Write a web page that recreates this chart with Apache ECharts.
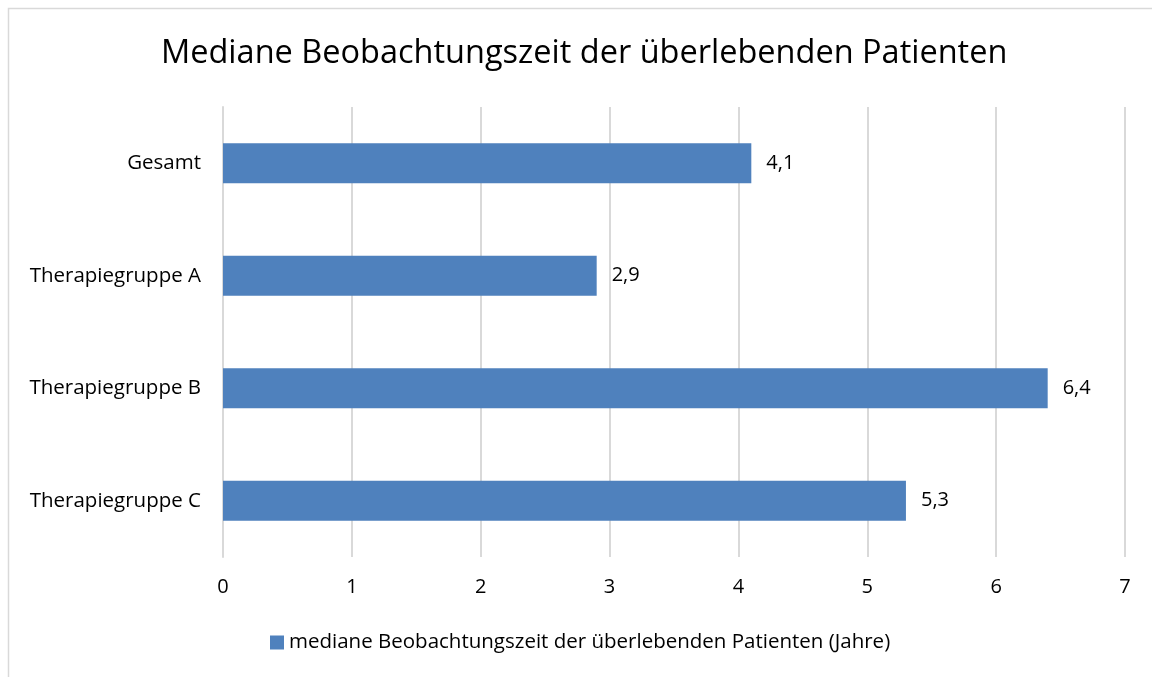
<!DOCTYPE html>
<html>
<head>
<meta charset="utf-8">
<script src="https://cdn.jsdelivr.net/npm/echarts@6/dist/echarts.min.js"></script>
<style>
  html, body { margin: 0; padding: 0; background: #fff; }
  #chart { width: 1152px; height: 677px; }
</style>
</head>
<body>
<div id="chart"></div>
<script>
// Daten
var categories = ['Gesamt', 'Therapiegruppe A', 'Therapiegruppe B', 'Therapiegruppe C']
var values = [4.1, 2.9, 6.4, 5.3]
var seriesName = 'mediane Beobachtungszeit der überlebenden Patienten (Jahre)'
var titleText = 'Mediane Beobachtungszeit der überlebenden Patienten'

var myChart = echarts.init(document.getElementById('chart'))

var fontFamily = '"Open Sans", sans-serif'

var option = {
  backgroundColor: '#fff',
  textStyle: { fontFamily: fontFamily },
  title: {
    text: titleText,
    left: 161,
    top: 37,
    padding: 0,
    textStyle: { fontSize: 32.5, fontWeight: 'normal', color: '#000', fontFamily: fontFamily }
  },
  graphic: [
    {
      type: 'rect',
      shape: { x: 8.5, y: 8.5, width: 1200, height: 700 },
      style: { fill: 'none', stroke: '#d9d9d9', lineWidth: 1.5 },
      silent: true
    }
  ],
  legend: {
    bottom: 24,
    left: 270,
    padding: 0,
    itemWidth: 14,
    itemHeight: 14,
    itemGap: 6,
    icon: 'rect',
    textStyle: { fontSize: 20.5, color: '#000' },
    data: [seriesName]
  },
  grid: { left: 223, right: 27, top: 107, bottom: 120 },
  xAxis: {
    type: 'value',
    min: 0,
    max: 7,
    interval: 1,
    axisLine: { show: false },
    axisTick: { show: false },
    axisLabel: { fontSize: 20, color: '#000', margin: 20 },
    splitLine: { lineStyle: { color: '#d9d9d9', width: 2 } }
  },
  yAxis: {
    type: 'category',
    inverse: true,
    data: categories,
    axisLine: { show: true, lineStyle: { color: '#d9d9d9', width: 2 } },
    axisTick: { show: false },
    axisLabel: { fontSize: 20.5, color: '#000', margin: 22 }
  },
  series: [
    {
      name: seriesName,
      type: 'bar',
      data: values,
      barWidth: 40,
      itemStyle: { color: '#4f81bd' },
      label: {
        show: true,
        position: 'right',
        distance: 15,
        fontSize: 20,
        color: '#000',
        formatter: function (p) {
          return String(p.value).replace('.', ',')
        }
      }
    }
  ]
}

myChart.setOption(option)
</script>
</body>
</html>
